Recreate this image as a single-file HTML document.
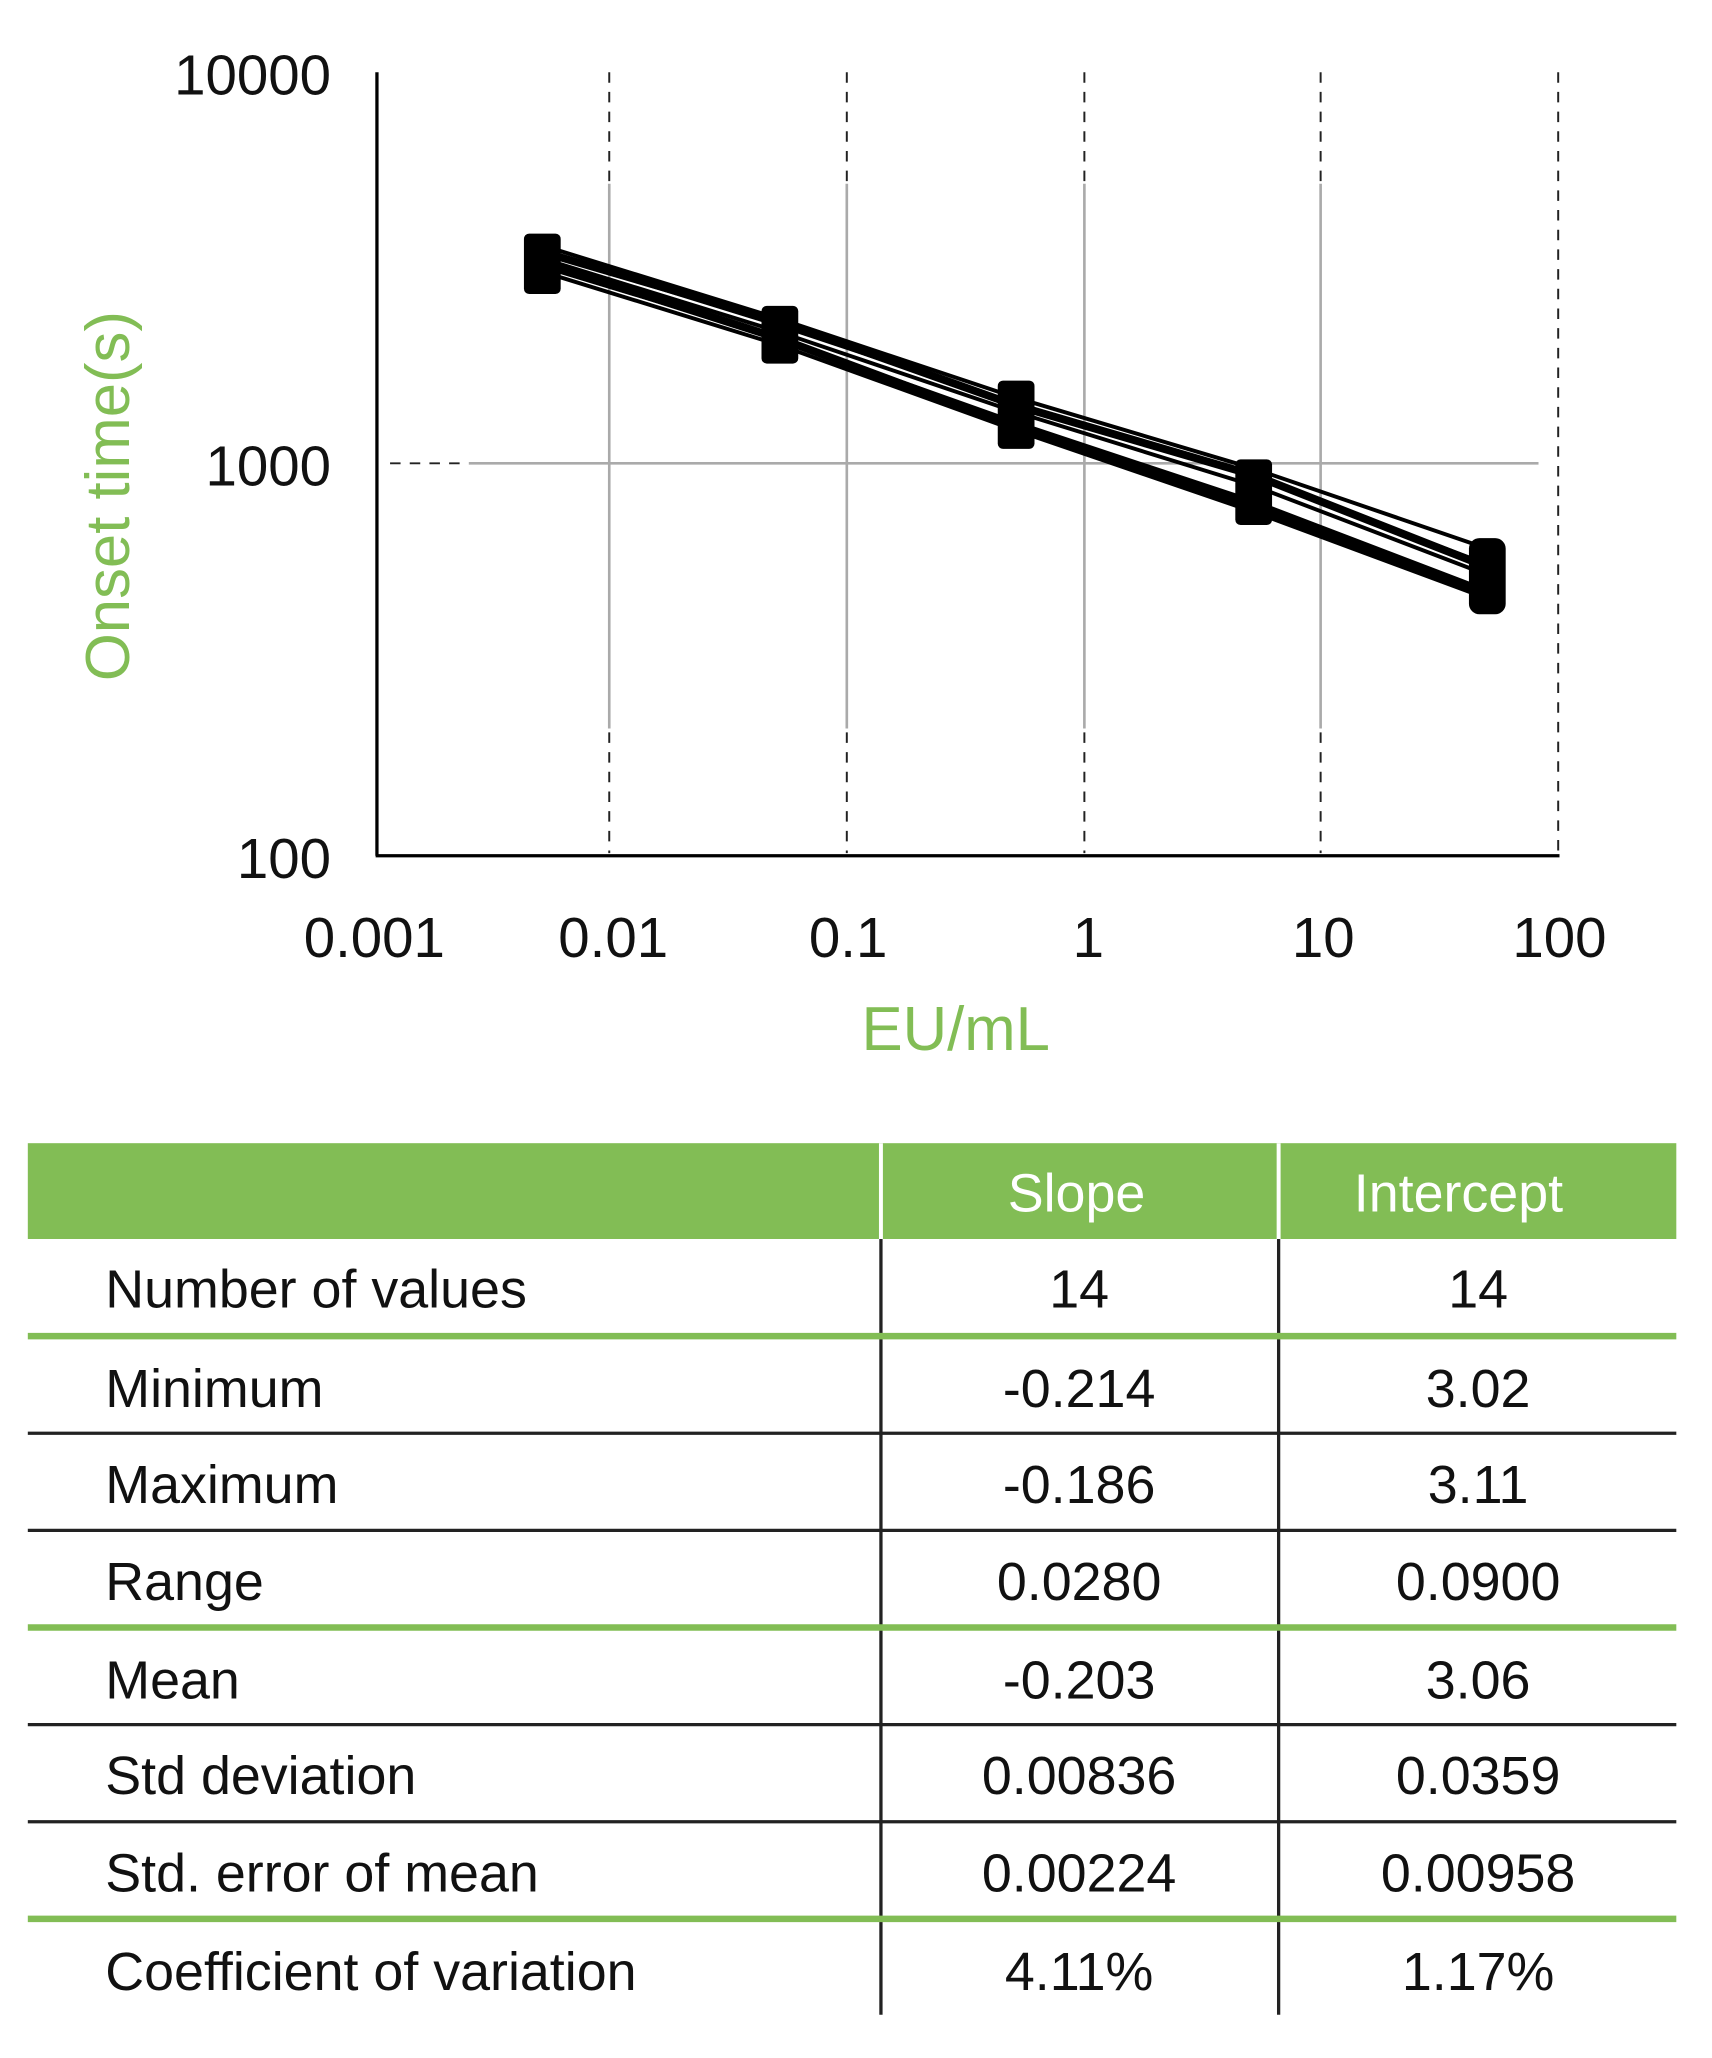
<!DOCTYPE html>
<html><head><style>body{margin:0;background:#fff}svg{display:block}</style></head><body>
<svg width="1712" height="2058" viewBox="0 0 1304 1568" xmlns="http://www.w3.org/2000/svg" font-family="Liberation Sans, sans-serif">
<rect width="1304" height="1568" fill="#fff"/>
<g stroke="#aaa" stroke-width="2">
<line x1="464" y1="140" x2="464" y2="555"/><line x1="645" y1="140" x2="645" y2="555"/>
<line x1="826" y1="140" x2="826" y2="555"/><line x1="1006" y1="140" x2="1006" y2="555"/>
<line x1="357" y1="353" x2="1172" y2="353"/>
</g>
<g stroke="#222" stroke-width="1.5" stroke-dasharray="8,7">
<line x1="464" y1="55" x2="464" y2="140"/><line x1="645" y1="55" x2="645" y2="140"/>
<line x1="826" y1="55" x2="826" y2="140"/><line x1="1006" y1="55" x2="1006" y2="140"/>
<line x1="464" y1="558" x2="464" y2="650"/><line x1="645" y1="558" x2="645" y2="650"/>
<line x1="826" y1="558" x2="826" y2="650"/><line x1="1006" y1="558" x2="1006" y2="650"/>
<line x1="1187" y1="55" x2="1187" y2="650"/>
<line x1="297" y1="353" x2="352" y2="353"/>
</g>
<g stroke="#000" stroke-width="2.5"><line x1="287" y1="55" x2="287" y2="652"/><line x1="286" y1="652" x2="1188" y2="652"/></g>
<g stroke="#000" fill="none" stroke-width="3">
<polyline points="413,187 594,243 774,303 955,357 1133,418"/>
<polyline points="413,192 594,248 774,308 955,363 1133,430"/>
<polyline points="413,197 594,253 774,314 955,370 1133,438"/>
<polyline points="413,203 594,258 774,322 955,382 1133,450"/>
<polyline points="413,207 594,263 774,328 955,390 1133,456"/>
</g>
<g stroke="#000" fill="none" stroke-width="6">
<polyline points="413,200 594,258 774,325 955,386 1133,452"/>
<polyline points="413,192 594,245 774,309 955,362 1133,432"/>
</g>
<g fill="#000">
<rect x="399" y="178" width="28" height="46" rx="4"/>
<rect x="580" y="233" width="28" height="44" rx="4"/>
<rect x="760" y="290" width="28" height="52" rx="4"/>
<rect x="941" y="350" width="28" height="50" rx="4"/>
<rect x="1119" y="410" width="28" height="58" rx="8"/>
</g>
<g font-size="43" fill="#111">
<text x="252" y="72" text-anchor="end">10000</text>
<text x="252" y="370" text-anchor="end">1000</text>
<text x="252" y="669" text-anchor="end">100</text>
<g text-anchor="middle"><text x="285" y="729">0.001</text><text x="467" y="729">0.01</text><text x="646" y="729">0.1</text><text x="829" y="729">1</text><text x="1008" y="729">10</text><text x="1188" y="729">100</text></g>
</g>
<text x="728" y="800" font-size="47" fill="#82bd55" text-anchor="middle">EU/mL</text>
<text transform="translate(98,378) rotate(-90)" font-size="47" fill="#82bd55" text-anchor="middle">Onset time(s)</text>
<rect x="21" y="871" width="1256" height="73" fill="#82bd55"/>
<g stroke="#fff" stroke-width="3"><line x1="671" y1="871" x2="671" y2="944"/><line x1="974" y1="871" x2="974" y2="944"/></g>
<g font-size="41" fill="#fff" text-anchor="middle"><text x="820" y="923">Slope</text><text x="1111" y="923">Intercept</text></g>
<g stroke="#222" stroke-width="2.5">
<line x1="671" y1="944" x2="671" y2="1535"/><line x1="974" y1="944" x2="974" y2="1535"/>
<line x1="21" y1="1092" x2="1277" y2="1092"/><line x1="21" y1="1166" x2="1277" y2="1166"/>
<line x1="21" y1="1314" x2="1277" y2="1314"/><line x1="21" y1="1388" x2="1277" y2="1388"/>
</g>
<g stroke="#82bd55" stroke-width="5">
<line x1="21" y1="1018" x2="1277" y2="1018"/><line x1="21" y1="1240" x2="1277" y2="1240"/><line x1="21" y1="1462" x2="1277" y2="1462"/>
</g>
<g font-size="41" fill="#111">
<text x="80" y="996">Number of values</text><text x="80" y="1072">Minimum</text><text x="80" y="1145">Maximum</text><text x="80" y="1219">Range</text><text x="80" y="1294">Mean</text><text x="80" y="1367">Std deviation</text><text x="80" y="1441">Std. error of mean</text><text x="80" y="1516">Coefficient of variation</text>
<g text-anchor="middle">
<text x="822" y="996">14</text><text x="822" y="1072">-0.214</text><text x="822" y="1145">-0.186</text><text x="822" y="1219">0.0280</text><text x="822" y="1294">-0.203</text><text x="822" y="1367">0.00836</text><text x="822" y="1441">0.00224</text><text x="822" y="1516">4.11%</text>
<text x="1126" y="996">14</text><text x="1126" y="1072">3.02</text><text x="1126" y="1145">3.11</text><text x="1126" y="1219">0.0900</text><text x="1126" y="1294">3.06</text><text x="1126" y="1367">0.0359</text><text x="1126" y="1441">0.00958</text><text x="1126" y="1516">1.17%</text>
</g></g>
</svg>
</body></html>
